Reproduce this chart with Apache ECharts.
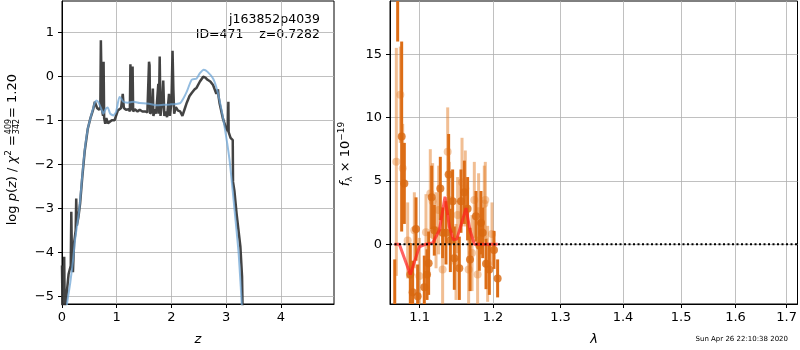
<!DOCTYPE html>
<html><head><meta charset="utf-8">
<script src="https://cdn.jsdelivr.net/npm/echarts@6/dist/echarts.min.js"></script>
<style>html,body{margin:0;padding:0;background:#fff}#c{width:800px;height:350px}</style>
</head><body><div id="c"></div>
<script>
// ---- Left panel: log p(z)
const pzDarkZ = [0.00,0.01,0.03,0.04,0.05,0.08,0.12,0.16,0.17,0.18,0.20,0.22,0.25,0.26,0.27,0.30,0.33,0.37,0.415,0.47,0.52,0.57,0.60,0.64,0.68,0.70,0.71,0.72,0.73,0.75,0.76,0.77,0.79,0.81,0.84,0.87,0.91,0.96,1.02,1.08,1.11,1.13,1.17,1.22,1.24,1.25,1.26,1.27,1.29,1.30,1.33,1.38,1.42,1.47,1.52,1.56,1.58,1.59,1.60,1.61,1.64,1.66,1.67,1.70,1.72,1.76,1.77,1.785,1.80,1.83,1.85,1.87,1.90,1.92,1.955,1.97,2.00,2.02,2.035,2.05,2.08,2.12,2.16,2.20,2.24,2.28,2.33,2.37,2.42,2.46,2.52,2.58,2.62,2.66,2.71,2.76,2.82,2.85,2.86,2.88,2.94,2.99,3.03,3.04,3.045,3.08,3.12,3.125,3.15,3.19,3.26,3.29,3.30];
const pzDarkV = [-4.3,-5.3,-4.6,-4.1,-5.3,-5.0,-4.5,-4.3,-3.08,-4.0,-4.45,-3.8,-3.5,-2.78,-3.4,-3.2,-2.9,-2.3,-1.7,-1.2,-0.95,-0.75,-0.58,-0.72,-0.76,-0.7,0.82,0.78,-0.75,-0.9,0.33,-0.95,-1.08,-0.95,-1.07,-1.05,-1.0,-1.0,-0.78,-0.72,-0.4,-0.72,-0.76,-0.75,-0.8,0.27,0.25,-0.78,0.22,-0.8,-0.75,-0.8,-0.76,-0.8,-0.8,-0.82,-0.8,0.33,0.25,-0.85,-0.8,-0.28,-0.9,-0.75,-0.85,-0.17,-0.85,0.45,-0.9,-0.6,-0.1,-0.9,-0.8,-0.93,-0.4,-0.9,-0.6,0.58,-0.3,-0.85,-0.7,-0.78,-0.8,-0.9,-0.75,-0.6,-0.45,-0.38,-0.3,-0.26,-0.12,-0.01,-0.03,-0.08,-0.12,-0.2,-0.4,-0.3,-0.45,-0.62,-0.96,-1.15,-1.25,-0.58,-1.27,-1.4,-1.45,-2.4,-2.6,-3.12,-3.88,-4.56,-5.3];
const pzBlueZ = [0.08,0.10,0.15,0.20,0.24,0.29,0.32,0.36,0.415,0.47,0.52,0.56,0.60,0.63,0.67,0.72,0.755,0.80,0.835,0.88,0.94,0.99,1.05,1.08,1.12,1.20,1.30,1.42,1.54,1.65,1.73,1.85,1.97,2.08,2.16,2.22,2.28,2.37,2.46,2.52,2.59,2.66,2.76,2.82,2.88,2.96,3.06,3.15,3.23,3.29];
const pzBlueV = [-5.3,-5.1,-4.7,-4.2,-3.7,-3.27,-2.97,-2.4,-1.68,-1.2,-0.95,-0.77,-0.6,-0.55,-0.6,-0.75,-0.85,-0.74,-0.71,-0.85,-0.89,-0.8,-0.47,-0.5,-0.58,-0.6,-0.58,-0.61,-0.62,-0.64,-0.66,-0.65,-0.64,-0.63,-0.61,-0.5,-0.35,-0.08,-0.05,0.07,0.15,0.1,-0.05,-0.25,-0.55,-1.07,-1.89,-3.0,-4.06,-5.3];
const zTicks = [0,1,2,3,4];
const logpTicks = [-5,-4,-3,-2,-1,0,1];

// ---- Right panel: spectrum
const lamTicks = [1.1,1.2,1.3,1.4,1.5,1.6,1.7];
const fluxTicks = [0,5,10,15];
const specDarkLam = [1.0680,1.0717,1.0768,1.0802,1.0879,1.0909,1.0953,1.0974,1.1061,1.1097,1.1118,1.1158,1.1193,1.1273,1.1304,1.1349,1.1385,1.1408,1.1439,1.1462,1.1530,1.1553,1.1599,1.1644,1.1677,1.1760,1.1807,1.1830,1.1854,1.1901,1.1948,1.2014,1.2066];
const specDarkF   = [-5.5,23.0,8.5,4.8,-2.4,-3.8,1.2,-4.1,-3.4,-2.4,-1.5,3.7,1.1,4.4,0.9,0.9,5.5,0.3,3.4,-1.1,-1.9,3.4,4.1,2.8,-1.2,2.2,-0.1,1.7,0.9,-1.55,-2.0,-0.45,-2.7];
const specDarkErr = [4.3,7.0,7.5,3.2,2.5,2.5,2.5,2.5,2.5,2.0,2.5,2.5,2.0,2.5,2.0,2.5,3.2,2.5,2.5,2.5,2.5,2.5,2.5,2.5,2.5,2.0,2.0,2.5,2.0,2.0,2.0,1.5,1.5];
const specLightLam = [1.0700,1.0751,1.0781,1.0845,1.0931,1.0996,1.1083,1.1140,1.1171,1.1216,1.1251,1.1304,1.1372,1.1394,1.1485,1.1507,1.1567,1.1612,1.1658,1.1705,1.1737,1.1783,1.1797,1.1877,1.1891,1.1924,1.1986];
const specLightF   = [6.5,11.8,6.0,0.3,1.1,-2.5,0.95,4.0,3.4,1.1,2.7,-2.0,7.3,3.5,-1.4,2.3,4.9,4.4,-2.0,-0.7,3.5,-2.4,2.6,3.2,3.5,-1.55,0.8];
const specLightErr = [9.0,3.8,3.5,3.0,3.0,3.0,3.0,3.5,3.0,3.0,3.5,3.0,3.5,3.0,3.0,3.0,3.5,3.0,3.0,3.0,3.0,3.0,3.0,3.0,3.0,3.0,2.5];
const modelLam = [1.0675,1.0738,1.0879,1.0996,1.1083,1.1171,1.1260,1.1336,1.1394,1.1448,1.1496,1.1622,1.1677,1.1737,1.2066];
const modelF   = [0,0,-2.4,-0.2,0,0.1,1.1,3.75,1.4,0.35,0.4,2.85,1.1,0,0];
const zeroLam = [1.062,1.722];

const FONT = 'DejaVu Sans';
const minus = v => String(v).replace('-', '\u2212');

function errRender(color){
  return function(params, api){
    const x = api.value(0), y = api.value(1), e = api.value(2);
    const p1 = api.coord([x, y - e]), p2 = api.coord([x, y + e]);
    return {type:'line', shape:{x1:p1[0],y1:p1[1],x2:p2[0],y2:p2[1]}, style:{stroke:color, lineWidth:3}};
  };
}
const zip2 = (a,b) => a.map((v,i)=>[v,b[i]]);
const zip3 = (a,b,c) => a.map((v,i)=>[v,b[i],c[i]]);

const axisCommon = (ticks, fmt, margin) => ({
  axisLine:{show:true, onZero:false, lineStyle:{color:'#000', width:1}},
  axisTick:{show:true, length:4, customValues:ticks, lineStyle:{color:'#000', width:1}},
  axisLabel:{customValues:ticks, formatter:fmt, color:'#000', fontFamily:FONT, fontSize:13, margin:margin},
  splitLine:{show:true, lineStyle:{color:'#b0b0b0', width:0.8}}
});

const chart = echarts.init(document.getElementById('c'), null, {renderer:'canvas'});
chart.setOption({
  animation:false,
  backgroundColor:'#fff',
  grid:[
    {left:62, right:466, top:1, bottom:46, show:true, borderColor:'#000', borderWidth:1, backgroundColor:'transparent'},
    {left:390, right:2, top:1, bottom:46, show:true, borderColor:'#000', borderWidth:1, backgroundColor:'transparent'}
  ],
  xAxis:[
    Object.assign({type:'value', gridIndex:0, min:0, max:4.97}, axisCommon(zTicks, v=>minus(v), 7)),
    Object.assign({type:'log', gridIndex:1, min:1.062, max:1.722, logBase:10}, axisCommon(lamTicks, v=>Number(v).toFixed(1), 7))
  ],
  yAxis:[
    Object.assign({type:'value', gridIndex:0, min:-5.175, max:1.71}, axisCommon(logpTicks, v=>minus(v), 8)),
    Object.assign({type:'value', gridIndex:1, min:-4.72, max:19.2}, axisCommon(fluxTicks, v=>minus(v), 8))
  ],
  series:[
    {type:'line', xAxisIndex:0, yAxisIndex:0, data:zip2(pzDarkZ,pzDarkV), showSymbol:false, symbol:'none',
     lineStyle:{color:'#333333', width:2.5, opacity:0.92}, clip:true, z:2},
    {type:'line', xAxisIndex:0, yAxisIndex:0, data:zip2(pzBlueZ,pzBlueV), showSymbol:false, symbol:'none', smooth:0.2,
     lineStyle:{color:'#6fa6d6', width:2, opacity:0.75}, clip:true, z:3},
    {type:'custom', xAxisIndex:1, yAxisIndex:1, data:zip3(specLightLam,specLightF,specLightErr), renderItem:errRender('rgba(228,125,40,0.5)'), clip:true, z:2},
    {type:'scatter', xAxisIndex:1, yAxisIndex:1, data:zip2(specLightLam,specLightF), symbolSize:8, itemStyle:{color:'rgba(228,125,40,0.5)'}, clip:true, z:3},
    {type:'custom', xAxisIndex:1, yAxisIndex:1, data:zip3(specDarkLam,specDarkF,specDarkErr), renderItem:errRender('#dc6d16'), clip:true, z:4},
    {type:'scatter', xAxisIndex:1, yAxisIndex:1, data:zip2(specDarkLam,specDarkF), symbolSize:8, itemStyle:{color:'#d8680f'}, clip:true, z:5},
    {type:'line', xAxisIndex:1, yAxisIndex:1, data:zip2(modelLam,modelF), showSymbol:false, symbol:'none',
     lineStyle:{color:'rgba(255,30,30,0.7)', width:3}, clip:true, z:6},
    {type:'line', xAxisIndex:1, yAxisIndex:1, data:zeroLam.map(l=>[l,0]), showSymbol:false, symbol:'none',
     lineStyle:{color:'#000', width:2, type:[2,2.5]}, clip:true, z:7}
  ],
  graphic:[
    {type:'text', x:320, y:20, style:{text:'j163852p4039', font:'12.5px "DejaVu Sans"', fill:'#000', align:'right', verticalAlign:'middle'}},
    {type:'text', x:320, y:35, style:{text:'ID=471    z=0.7282', font:'12.5px "DejaVu Sans"', fill:'#000', align:'right', verticalAlign:'middle'}},
    {type:'text', x:198, y:340, style:{text:'z', font:'italic 13px "DejaVu Sans"', fill:'#000', align:'center', verticalAlign:'middle'}},
    {type:'text', x:594, y:340, style:{text:'\u03bb', font:'italic 13px "DejaVu Sans"', fill:'#000', align:'center', verticalAlign:'middle'}},
    {type:'text', x:788, y:339, style:{text:'Sun Apr 26 22:10:38 2020', font:'7px "DejaVu Sans"', fill:'#000', align:'right', verticalAlign:'middle'}},
    {type:'group', x:12.5, y:155, rotation:Math.PI/2, children:[
      {type:'text', x:20, y:0, style:{text:'{n|log }{i|p}{n|(}{i|z}{n|) / }{i|\u03c7}{s|2}{n| =}', align:'right', verticalAlign:'middle', fill:'#000',
        rich:{n:{fontFamily:FONT, fontSize:13, verticalAlign:'middle'}, i:{fontFamily:FONT, fontSize:13, fontStyle:'italic', verticalAlign:'middle'}, s:{fontFamily:FONT, fontSize:9, verticalAlign:'middle', padding:[0,0,8,0]}}}},
      {type:'text', x:28.5, y:-3.8, style:{text:'409', font:'8px "DejaVu Sans"', fill:'#000', align:'center', verticalAlign:'middle'}},
      {type:'line', shape:{x1:22.5, y1:0, x2:34.5, y2:0}, style:{stroke:'#000', lineWidth:0.6}},
      {type:'text', x:28.5, y:4, style:{text:'342', font:'8px "DejaVu Sans"', fill:'#000', align:'center', verticalAlign:'middle'}},
      {type:'text', x:37, y:0, style:{text:'= 1.20', font:'13px "DejaVu Sans"', fill:'#000', align:'left', verticalAlign:'middle'}}
    ]},
    {type:'group', x:346, y:154, rotation:Math.PI/2, children:[
      {type:'text', x:0, y:0, style:{text:'{i|f}{s|\u03bb}{n| \u00d7 10}{p|\u221219}', align:'center', verticalAlign:'middle', fill:'#000',
        rich:{n:{fontFamily:FONT, fontSize:13, verticalAlign:'middle'}, i:{fontFamily:FONT, fontSize:13, fontStyle:'italic', verticalAlign:'middle'},
              s:{fontFamily:FONT, fontSize:9, verticalAlign:'middle', padding:[8,0,0,0]}, p:{fontFamily:FONT, fontSize:9, verticalAlign:'middle', padding:[0,0,9,0]}}}}
    ]}
  ]
});
</script></body></html>
